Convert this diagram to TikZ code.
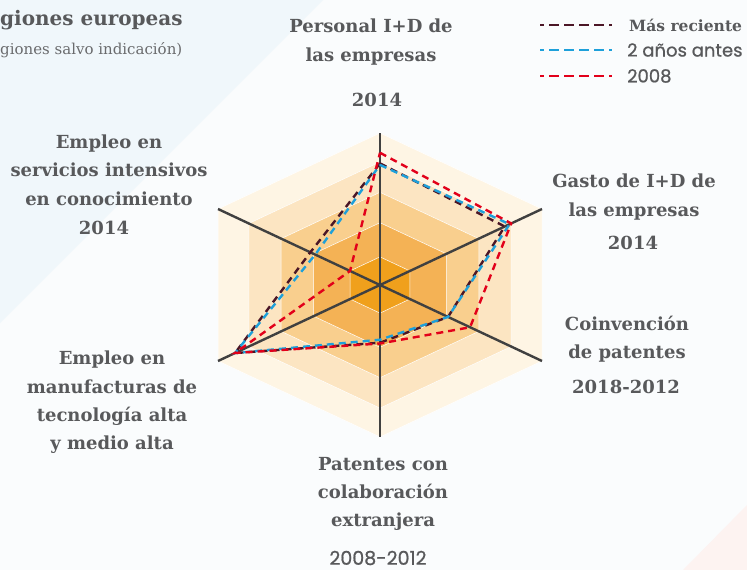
\documentclass[tikz,border=0pt]{standalone}
\usepackage{fontspec}
\setmainfont{DejaVu Serif}
\newfontfamily\numfont[FakeBold=0.8]{Poppins}
\usetikzlibrary{calc}
\definecolor{bgblue}{HTML}{F0F7FB}
\definecolor{bgwhite}{HTML}{FAFCFD}
\definecolor{bgpink}{HTML}{FDF3F1}
\definecolor{lvA}{HTML}{FEF5E4}
\definecolor{lvB}{HTML}{FCE5C2}
\definecolor{lvC}{HTML}{F9CF8E}
\definecolor{lvD}{HTML}{F4B255}
\definecolor{lvE}{HTML}{F0A01C}
\definecolor{txt}{HTML}{58595B}
\definecolor{subtxt}{HTML}{6A6B6D}
\definecolor{axisgray}{HTML}{404040}
\definecolor{darkser}{HTML}{4B1626}
\definecolor{blueser}{HTML}{1EA0DA}
\definecolor{redser}{HTML}{E2001A}
\begin{document}
\begin{tikzpicture}[x=1pt,y=-1pt,
  lbl/.style={align=center, text=txt, font=\fontsize{18}{28.3}\selectfont\bfseries, inner sep=0pt},
  yr/.style={text=txt, font=\fontsize{18}{21}\selectfont\bfseries, inner sep=0pt},
  yrsans/.style={text=txt, font=\numfont\fontsize{19}{22}\selectfont, inner sep=0pt},
  legtxt/.style={anchor=west, text=txt, inner sep=0pt},
  series/.style={line width=2.4pt, dash pattern=on 7pt off 5pt, line join=miter},
  legline/.style={line width=2.6pt, dash pattern=on 10pt off 5pt, dash phase=6pt},
  ax/.style={axisgray, line width=2.4pt},
  lev/.style={draw=white, line width=0.5pt}]
% background
\fill[bgwhite] (0,0) rectangle (747,570);
\fill[bgblue] (0,0) -- (323,0) -- (0,323) -- cycle;
\fill[bgpink] (747,505) -- (683,570) -- (747,570) -- cycle;
\useasboundingbox (0,0) rectangle (747,570);
% geometry
\coordinate (C) at (380,285);
\coordinate (V0) at (380,133);
\coordinate (V1) at (542,209);
\coordinate (V2) at (542,361);
\coordinate (V3) at (380,437);
\coordinate (V4) at (218,361);
\coordinate (V5) at (218,209);
% levels
\foreach \r/\c in {1/lvA,0.81/lvB,0.61/lvC,0.41/lvD,0.185/lvE}{
  \fill[\c,lev] ($(C)!\r!(V0)$) -- ($(C)!\r!(V1)$) -- ($(C)!\r!(V2)$) -- ($(C)!\r!(V3)$) -- ($(C)!\r!(V4)$) -- ($(C)!\r!(V5)$) -- cycle;
}
% axes
\draw[ax] (V0) -- (V3);
\draw[ax] (V1) -- (V4);
\draw[ax] (V2) -- (V5);
% series
\draw[series,darkser] ($(C)!0.80!(V0)$) -- ($(C)!0.77!(V1)$) -- ($(C)!0.42!(V2)$) -- ($(C)!0.38!(V3)$) -- ($(C)!0.895!(V4)$) -- ($(C)!0.43!(V5)$) -- cycle;
\draw[series,blueser] ($(C)!0.79!(V0)$) -- ($(C)!0.80!(V1)$) -- ($(C)!0.42!(V2)$) -- ($(C)!0.36!(V3)$) -- ($(C)!0.895!(V4)$) -- ($(C)!0.40!(V5)$) -- cycle;
\draw[series,redser] ($(C)!0.87!(V0)$) -- ($(C)!0.81!(V1)$) -- ($(C)!0.556!(V2)$) -- ($(C)!0.385!(V3)$) -- ($(C)!0.895!(V4)$) -- ($(C)!0.185!(V5)$) -- cycle;
% legend
\coordinate (LAa) at (540,25); \coordinate (LAb) at (612,25);
\coordinate (LBa) at (540,50); \coordinate (LBb) at (612,50);
\coordinate (LCa) at (540,76); \coordinate (LCb) at (612,76);
\draw[legline,darkser] (LAa) -- (LAb);
\draw[legline,blueser] (LBa) -- (LBb);
\draw[legline,redser] (LCa) -- (LCb);
\node[legtxt, font=\fontsize{15.5}{18}\selectfont\bfseries] (legA) at (629,25) {Más reciente};
\node[legtxt, font=\numfont\fontsize{18}{20}\selectfont] (legB) at (627,50) {2 años antes};
\node[legtxt, font=\numfont\fontsize{18}{20}\selectfont] (legC) at (627,76) {2008};
% title
\node[anchor=west, inner sep=0pt, text=txt, font=\fontsize{20}{22}\selectfont\bfseries] (title) at (0,20) {giones europeas};
\node[anchor=west, inner sep=0pt, text=subtxt, font=\fontsize{15}{18}\selectfont] (subtitle) at (0,50) {giones salvo indicación)};
% labels
\node[lbl] (personal) at (371,42) {Personal I+D de\\las empresas};
\node[yr] (personalyr) at (377,100) {2014};
\node[lbl] (gasto) at (634,197) {Gasto de I+D de\\las empresas};
\node[yr] (gastoyr) at (633,243) {2014};
\node[lbl] (coinv) at (627,339.5) {Coinvención\\de patentes};
\node[yr] (coinvyr) at (626,387) {2018-2012};
\node[lbl] (patentes) at (383,494) {Patentes con\\colaboración\\extranjera};
\node[yrsans] (patyr) at (378,558) {2008-2012};
\node[lbl] (servicios) at (109,170) {Empleo en\\servicios intensivos\\en conocimiento};
\node[yr] (servyr) at (104,228) {2014};
\node[lbl] (manuf) at (112,402.5) {Empleo en\\manufacturas de\\tecnología alta\\y medio alta};
\end{tikzpicture}
\end{document}
